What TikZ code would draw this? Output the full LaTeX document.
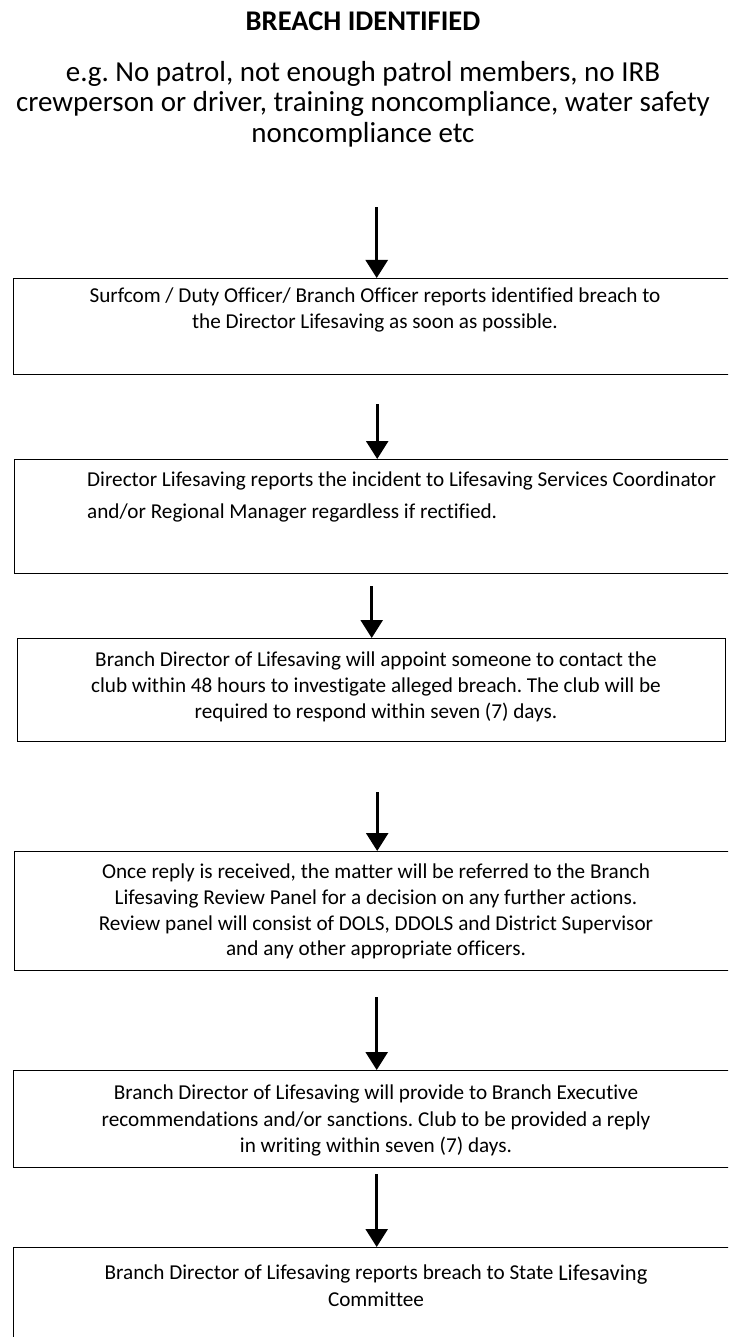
\documentclass[tikz,border=0pt]{standalone}
\usepackage{fontspec}
\setmainfont{Carlito}[Ligatures=NoCommon]
\usetikzlibrary{arrows.meta}
\frenchspacing
\begin{document}
\begin{tikzpicture}[x=1pt,y=-1pt,
  stepbox/.style={draw=black, line width=1.4pt, rectangle, anchor=north west, inner sep=0pt},
  arr/.style={line width=2.6pt, -{Triangle[width=22pt,length=18pt]}},
  boxtext/.style={inner sep=0pt, align=center, font=\fontsize{21.2}{26}\selectfont}
]
\useasboundingbox (0,0) rectangle (728,1337);
\clip (0,0) rectangle (728,1337);

\node[inner sep=0pt, font=\fontsize{28.5}{30}\selectfont\bfseries] (title) at (363,21) {BREACH IDENTIFIED};
\node[inner sep=0pt, align=center, font=\fontsize{29}{30.5}\selectfont] (sub) at (363,104)
  {e.g. No patrol, not enough patrol members, no IRB\\
   crewperson or driver, training noncompliance, water safety\\
   noncompliance etc};

\node[stepbox, minimum width=726pt, minimum height=96pt] (b1) at (13,278) {};
\node[stepbox, minimum width=725pt, minimum height=114pt] (b2) at (14,459) {};
\node[stepbox, minimum width=708pt, minimum height=103pt] (b3) at (17,638) {};
\node[stepbox, minimum width=725pt, minimum height=119pt] (b4) at (14,851) {};
\node[stepbox, minimum width=726pt, minimum height=97pt] (b5) at (13,1070) {};
\node[stepbox, minimum width=726pt, minimum height=113pt] (b6) at (13,1247) {};

\node[boxtext] (t1) at (375,310)
  {Surfcom / Duty Officer/ Branch Officer reports identified breach to\\
   the Director Lifesaving as soon as possible.};
\node[boxtext, align=left, anchor=west, font=\fontsize{21.2}{32}\selectfont] (t2) at (87,497)
  {Director Lifesaving reports the incident to Lifesaving Services Coordinator\\
   and/or Regional Manager regardless if rectified.};
\node[boxtext] (t3) at (376,687)
  {Branch Director of Lifesaving will appoint someone to contact the\\
   club within 48 hours to investigate alleged breach. The club will be\\
   required to respond within seven (7) days.};
\node[boxtext, font=\fontsize{21.2}{25.7}\selectfont] (t4) at (376,911.5)
  {Once reply is received, the matter will be referred to the Branch\\
   Lifesaving Review Panel for a decision on any further actions.\\
   Review panel will consist of DOLS, DDOLS and District Supervisor\\
   and any other appropriate officers.};
\node[boxtext, font=\fontsize{21.2}{26.5}\selectfont] (t5) at (376,1120.5)
  {Branch Director of Lifesaving will provide to Branch Executive\\
   recommendations and/or sanctions. Club to be provided a reply\\
   in writing within seven (7) days.};
\node[boxtext, font=\fontsize{21.2}{27}\selectfont] (t6) at (376,1285.5)
  {Branch Director of Lifesaving reports breach to State {\fontsize{22.5}{27}\selectfont\raisebox{-1.5pt}{Lifesaving}}\\
   Committee};

\draw[arr] (b1.north |- sub.south) ++(0,60) -- (b1.north);
\draw[arr, shorten <=29pt] (b2.north |- b1.south) -- (b2.north);
\draw[arr, shorten <=12pt] (b3.north |- b2.south) -- (b3.north);
\draw[arr, shorten <=50pt] (b4.north |- b3.south) -- (b4.north);
\draw[arr, shorten <=26pt] (b5.north |- b4.south) -- (b5.north);
\draw[arr, shorten <=6pt] (b6.north |- b5.south) -- (b6.north);
\end{tikzpicture}
\end{document}
